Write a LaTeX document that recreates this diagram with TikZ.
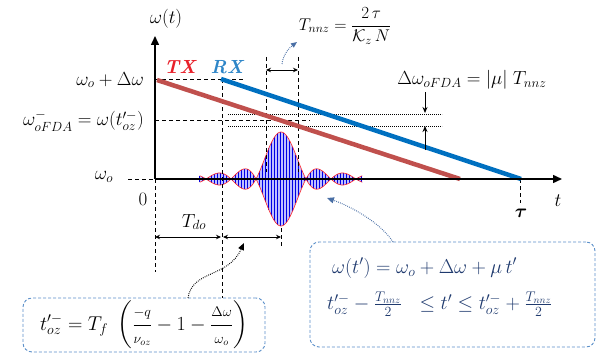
\RequirePackage{fix-cm}
\documentclass[tikz,border=0pt]{standalone}
\usepackage{amsmath,amssymb,bm}
\usetikzlibrary{arrows.meta}
\definecolor{txred}{HTML}{C0504D}
\definecolor{rxblue}{HTML}{0070C0}
\definecolor{txlabel}{HTML}{E8202A}
\definecolor{rxlabel}{HTML}{2E86C8}
\definecolor{boxblue}{HTML}{5B8FC9}
\definecolor{navy}{HTML}{1F3A6E}
\definecolor{arrowblue}{HTML}{4A6FA5}
\begin{document}
\begin{tikzpicture}[x=1pt,y=-1pt,
  lbl/.style={font=\fontsize{19}{21}\selectfont, inner sep=0pt},
  boxtxt/.style={font=\fontsize{20}{22}\selectfont, inner sep=0pt},
  dsh/.style={dash pattern=on 4pt off 3pt, line width=0.9pt},
  dotl/.style={dash pattern=on 0.8pt off 1.2pt, line width=0.7pt},
  tipa/.style={-{Stealth[length=6pt,width=5pt]}},
  dtip/.style={{Stealth[length=5pt,width=4.5pt]}-{Stealth[length=5pt,width=4.5pt]}, line width=0.9pt},
  chirp/.style={line width=4.5pt},
  eqbox/.style={draw=boxblue, dash pattern=on 3pt off 2pt, line width=0.9pt, rounded corners=9pt, inner sep=0pt}
]
\useasboundingbox (0,0) rectangle (605,353);

% coordinates
\coordinate (O) at (155,179);
\coordinate (yend) at (155,36);
\coordinate (xend) at (562,179);
\coordinate (txs) at (157,80);
\coordinate (txe) at (460,179);
\coordinate (rxs) at (221,79);
\coordinate (rxe) at (521,179);

% waveform
\fill[blue!25] plot[domain=-3.25:3.25,samples=300] ({281+25*\x},{179-47*abs(sin(180*\x)/(3.14159*\x))})
  -- plot[domain=3.25:-3.25,samples=300] ({281+25*\x},{179+47*abs(sin(180*\x)/(3.14159*\x))}) -- cycle;
\foreach \k in {0,...,54} {
  \pgfmathsetmacro\u{-3.25+\k*0.12}
  \pgfmathsetmacro\e{47*abs(sin(180*\u)/(3.14159*\u))}
  \draw[blue!90!black, line width=1pt] ({281+25*\u},{179-\e}) -- ({281+25*\u},{179+\e});
}
\draw[red!85!white, line width=0.6pt] plot[domain=-3.25:3.25,samples=300] ({281+25*\x},{179-47*abs(sin(180*\x)/(3.14159*\x))});
\draw[red!85!white, line width=0.6pt] plot[domain=-3.25:3.25,samples=300] ({281+25*\x},{179+47*abs(sin(180*\x)/(3.14159*\x))});

% dashed guides
\coordinate (wtop) at (155,79);
\coordinate (wtopE) at (243,79);
\coordinate (wf) at (155,120);
\coordinate (wfE) at (310,120);
\coordinate (woL) at (128,179);
\coordinate (rxd) at (222,298);
\coordinate (rxu) at (222,79);
\coordinate (od) at (155,272);
\coordinate (v1t) at (266,57);
\coordinate (v1b) at (266,172);
\coordinate (v2t) at (298,57);
\coordinate (v2b) at (298,172);
\coordinate (v3t) at (281,228);
\coordinate (v3b) at (281,246);
\coordinate (taut) at (520,179);
\coordinate (taub) at (520,203);
\draw[dsh] (wtop) -- (wtopE);
\draw[dsh] (wf) -- (wfE);
\draw[dsh] (woL) -- (O);
\draw[dsh] (rxu) -- (rxd);
\draw[dsh] (O) -- (od);
\draw[dsh] (v1t) -- (v1b);
\draw[dsh] (v2t) -- (v2b);
\draw[dsh] (v3t) -- (v3b);
\draw[dsh] (taut) -- (taub);

% dotted levels
\coordinate (d1s) at (228,114);
\coordinate (d1e) at (442,114);
\coordinate (d2s) at (228,126);
\coordinate (d2e) at (442,126);
\draw[dotl] (d1s) -- (d1e);
\draw[dotl] (d2s) -- (d2e);

% TX / RX lines
\draw[txred, chirp] (txs) -- (txe);
\draw[rxblue, chirp] (rxs) -- (rxe);

% axes
\draw[line width=1.5pt, -{Triangle[length=9pt,width=8pt]}] (O) -- (yend);
\draw[line width=1.5pt, -{Triangle[length=9pt,width=8pt]}] (O) -- (xend);

% measurement arrows
\coordinate (tn1) at (266,70);
\coordinate (tn2) at (298,70);
\draw[dtip] (tn1) -- (tn2);
\coordinate (td1) at (155,237);
\coordinate (td2) at (221,237);
\coordinate (td3) at (223,237);
\coordinate (td4) at (281,237);
\draw[dtip] (td1) -- (td2);
\draw[dtip] (td3) -- (td4);
\coordinate (a1s) at (425,92);
\coordinate (a1e) at (425,113);
\coordinate (a2s) at (425,150);
\coordinate (a2e) at (425,126);
\draw[tipa, line width=1pt] (a1s) -- (a1e);
\draw[tipa, line width=1pt] (a2s) -- (a2e);

% labels
\node[lbl] (lw) at (166,19) {$\omega(t)$};
\node[lbl, anchor=east] (lwd) at (144,80) {$\omega_o + \Delta\omega$};
\node[lbl, anchor=east] (lwf) at (144,121) {$\omega^{-}_{oFDA} = \omega(t'^{-}_{oz})$};
\node[lbl] (lwo) at (104,177) {$\omega_o$};
\node[lbl] (l0) at (143,199) {$0$};
\node[lbl, text=txlabel] (ltx) at (180,67) {\bfseries\itshape TX};
\node[lbl, text=rxlabel] (lrx) at (227,67) {\bfseries\itshape RX};
\node[lbl] (ltd) at (194,222) {$T_{do}$};
\node[lbl] (ltau) at (521,213) {$\bm{\tau}$};
\node[lbl] (lt) at (558,201) {$t$};
\node[lbl, font=\fontsize{17}{19}\selectfont] (ltn) at (345,26) {$T_{nnz} = \dfrac{2\,\tau}{\mathcal{K}_z\, N}$};
\node[lbl] (ldw) at (472,80) {$\Delta\omega_{oFDA} = |\mu|\; T_{nnz}$};

% boxes
\node[eqbox, minimum width=242pt, minimum height=54pt, boxtxt] (bl) at (144,325)
  {$t'^{-}_{oz} = T_f\ \left(\dfrac{\scriptstyle -q}{\scriptstyle \nu_{oz}} - 1 - \dfrac{\scriptstyle \Delta\omega}{\scriptstyle \omega_o}\right)$};
\node[eqbox, minimum width=285pt, minimum height=105pt] (br) at (452.5,294.5) {};
\node[boxtxt, text=navy, anchor=west] (br1) at (332,268) {$\omega(t') = \omega_o + \Delta\omega + \mu\, t'$};
\node[boxtxt, text=navy, anchor=west] (br2) at (327,304) {$t'^{-}_{oz} - \frac{T_{nnz}}{2}\ \ \le t' \le t'^{-}_{oz} + \frac{T_{nnz}}{2}$};

% pointer arrows
\coordinate (p1s) at (282,64);
\coordinate (p1e) at (297,42);
\draw[arrowblue, dotl, line width=1pt, -{Triangle[length=6pt,width=5pt]}] (p1s) .. controls (283,55) and (289,48) .. (p1e);
\coordinate (p2s) at (188,298);
\coordinate (p2e) at (244,243);
\draw[black, dotl, line width=1pt, -{Triangle[length=7pt,width=6pt]}] (p2s) .. controls (192,270) and (228,278) .. (p2e);
\coordinate (p3s) at (393,242);
\coordinate (p3e) at (327,198);
\draw[arrowblue, dotl, line width=1pt, -{Triangle[length=7pt,width=6pt]}] (p3s) .. controls (380,222) and (350,206) .. (p3e);
\end{tikzpicture}
\end{document}
